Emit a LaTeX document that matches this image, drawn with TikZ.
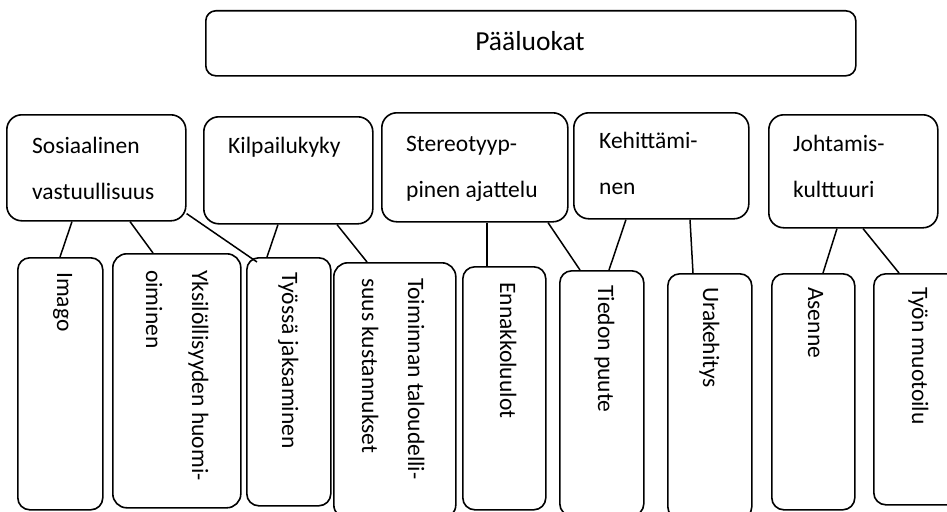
\documentclass[tikz,border=0pt]{standalone}
\usepackage{fontspec}
\setmainfont{Carlito}
\usetikzlibrary{calc}
\begin{document}
\begin{tikzpicture}[x=1pt,y=-1pt,
  box/.style={draw, line width=1.6pt, rounded corners=#1, inner sep=0pt, anchor=north west, fill=white},
  box/.default=14pt,
  txt/.style={font=\fontsize{23.5}{46}\selectfont, align=left, inner sep=0pt, anchor=base west},
  vtxt/.style={txt, rotate=-90},
  conn/.style={line width=1.5pt}]
\useasboundingbox (0,0) rectangle (947,511);
\clip (0,0) rectangle (947,511);
% top box
\node[box=10pt, minimum width=650pt, minimum height=65pt] (top) at (205,10) {};
\node[font=\fontsize{27.5}{34}\selectfont, inner sep=0pt, anchor=base] (toptxt) at (530,51) {Pääluokat};
% category boxes
\node[box=15pt, minimum width=179pt, minimum height=106pt] (sos) at (6,114) {};
\node[box=15pt, minimum width=169pt, minimum height=107pt] (kil) at (203,116) {};
\node[box=15pt, minimum width=186pt, minimum height=109pt] (ste) at (381,112) {};
\node[box=15pt, minimum width=175pt, minimum height=106pt] (keh) at (573,112) {};
\node[box=15pt, minimum width=169pt, minimum height=113pt] (joh) at (768,114) {};
% (base anchor of a two-line node = baseline of its last line)
\node[txt] (sostxt) at (32,199) {Sosiaalinen\\vastuullisuus};
\node[txt] (kiltxt) at (228,153) {Kilpailukyky};
\node[txt] (stetxt) at (406,197) {Stereotyyp-\\pinen ajattelu};
\node[txt] (kehtxt) at (599,194) {Kehittämi-\\nen};
\node[txt] (johtxt) at (793,197) {Johtamis-\\kulttuuri};
% bottom boxes
\node[box=12pt, minimum width=85pt, minimum height=252pt] (ima) at (17,257) {};
\node[box=14pt, minimum width=128pt, minimum height=254pt] (yks) at (112,253) {};
\node[box=12pt, minimum width=84pt, minimum height=248pt] (tys) at (246,257) {};
\node[box=14pt, minimum width=122pt, minimum height=256pt] (toi) at (333,262) {};
\node[box=12pt, minimum width=83pt, minimum height=243pt] (enn) at (462,266) {};
\node[box=12pt, minimum width=84pt, minimum height=245pt] (tie) at (559,270) {};
\node[box=12pt, minimum width=84pt, minimum height=245pt] (ura) at (667,273) {};
\node[box=12pt, minimum width=83pt, minimum height=236pt] (ase) at (771,273) {};
\node[box=12pt, minimum width=90pt, minimum height=231pt] (tyo) at (873,273) {};
\node[vtxt] (imatxt) at (57,272) {Imago};
\node[vtxt] (ykstxt) at (146,270) {Yksilöllisyyden huomi-\\oiminen};
\node[vtxt] (tystxt) at (282,272) {Työssä jaksaminen};
\node[vtxt] (toitxt) at (362,278) {Toiminnan taloudelli-\\suus kustannukset};
\node[vtxt] (enntxt) at (500,282) {Ennakkoluulot};
\node[vtxt] (tietxt) at (598,285) {Tiedon puute};
\node[vtxt] (uratxt) at (703,287) {Urakehitys};
\node[vtxt] (asetxt) at (808,287) {Asenne};
\node[vtxt] (tyotxt) at (912,287) {Työn muotoilu};
% connectors
\draw[conn] ([xshift=66pt]sos.south west) -- ([xshift=43pt]ima.north west);
\draw[conn] ([xshift=124pt]sos.south west) -- ([xshift=41pt]yks.north west);
\draw[conn] ([yshift=8pt]sos.south east) -- ([xshift=11pt,yshift=-5pt]tys.north west);
\draw[conn] ([xshift=75pt]kil.south west) -- ([xshift=21pt]tys.north west);
\draw[conn] ([xshift=134pt]kil.south west) -- ([xshift=34pt]toi.north west);
\draw[conn] ([xshift=106pt]ste.south west) -- ([xshift=25pt]enn.north west);
\draw[conn] ([xshift=167pt]ste.south west) -- ([xshift=21pt]tie.north west);
\draw[conn] ([xshift=53pt]keh.south west) -- ([xshift=50pt]tie.north west);
\draw[conn] ([xshift=117pt]keh.south west) -- ([xshift=26pt]ura.north west);
\draw[conn] ([xshift=69pt]joh.south west) -- ([xshift=52pt]ase.north west);
\draw[conn] ([xshift=95pt]joh.south west) -- ([xshift=26pt]tyo.north west);
\end{tikzpicture}
\end{document}
